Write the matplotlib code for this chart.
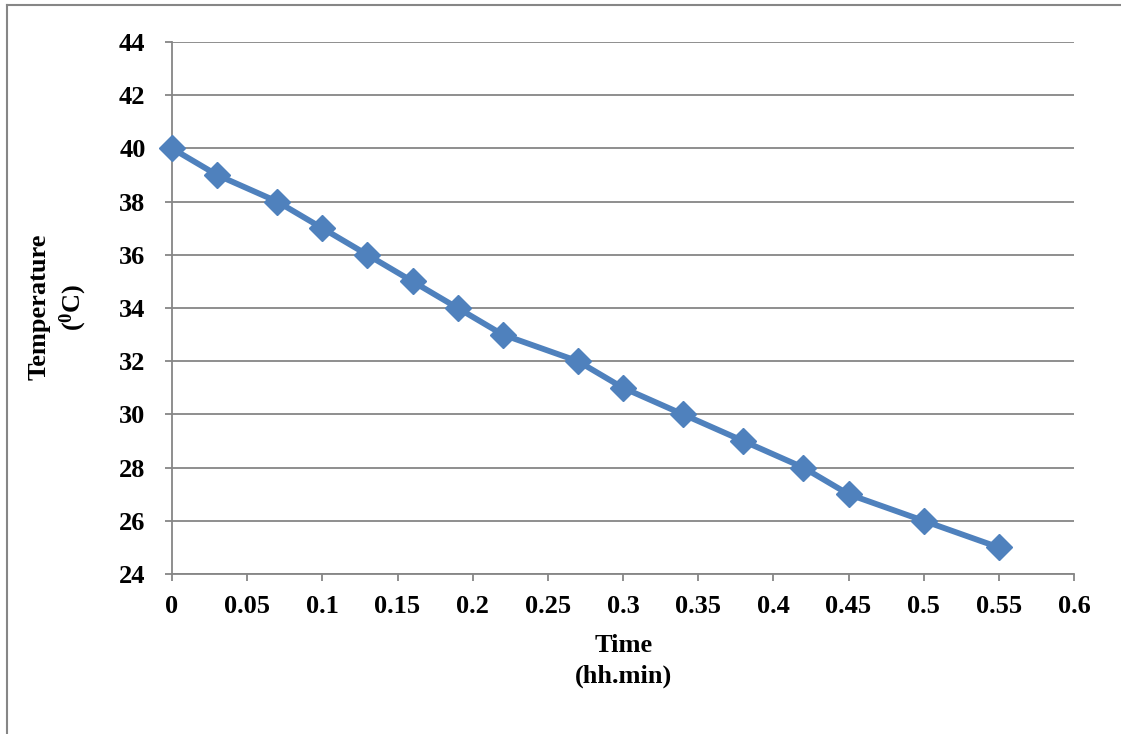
import matplotlib
matplotlib.use("Agg")
import matplotlib.pyplot as plt
from matplotlib.lines import Line2D

time = [0, 0.03, 0.07, 0.1, 0.13, 0.16, 0.19, 0.22, 0.27, 0.3, 0.34, 0.38, 0.42, 0.45, 0.5, 0.55]
temperature = [40, 39, 38, 37, 36, 35, 34, 33, 32, 31, 30, 29, 28, 27, 26, 25]
xticks = [0, 0.05, 0.1, 0.15, 0.2, 0.25, 0.3, 0.35, 0.4, 0.45, 0.5, 0.55, 0.6]
xtick_labels = ["0", "0.05", "0.1", "0.15", "0.2", "0.25", "0.3", "0.35", "0.4", "0.45", "0.5", "0.55", "0.6"]
yticks = [24, 26, 28, 30, 32, 34, 36, 38, 40, 42, 44]

plt.rcParams['font.family'] = ['Liberation Serif', 'DejaVu Serif']
plt.rcParams['font.weight'] = 'bold'
plt.rcParams['mathtext.fontset'] = 'custom'
plt.rcParams['mathtext.rm'] = 'Liberation Serif:bold'
plt.rcParams['mathtext.it'] = 'Liberation Serif:bold'
plt.rcParams['mathtext.bf'] = 'Liberation Serif:bold'

W, H = 1121, 734
fig = plt.figure(figsize=(W/100, H/100), dpi=100)
ax = fig.add_axes([172/W, 1-574/H, (1074-172)/W, (574-42)/H])

gray = '#868686'
blue = '#4F81BD'
fs = 19

ax.plot(time, temperature, color=blue, lw=4.2, marker='D', ms=13, zorder=3, clip_on=False)
ax.set_xlim(0, 0.6)
ax.set_ylim(24, 44)
ax.set_xticks(xticks)
ax.set_xticklabels(xtick_labels)
ax.set_yticks(yticks)
ax.yaxis.grid(True, color=gray, lw=1.3)
ax.set_axisbelow(True)
for s in ['top', 'right']:
    ax.spines[s].set_visible(False)
for s in ['left', 'bottom']:
    ax.spines[s].set_color(gray)
    ax.spines[s].set_linewidth(1.3)
ax.tick_params(axis='both', direction='out', length=5, width=1.3, color=gray,
               labelsize=fs)
ax.tick_params(axis='y', pad=14)
ax.tick_params(axis='x', pad=10)
for lab in ax.get_xticklabels() + ax.get_yticklabels():
    lab.set_fontweight('bold')

fig.text(624/W, 1-645/H, "Time", ha='center', va='center', fontsize=fs, fontweight='bold')
fig.text(624/W, 1-676/H, "(hh.min)", ha='center', va='center', fontsize=fs, fontweight='bold')
fig.text(39/W, 1-307/H, "Temperature", ha='center', va='center', rotation=90, fontsize=fs, fontweight='bold')
fig.text(73/W, 1-307/H, "(${}^{0}$C)", ha='center', va='center', rotation=90, fontsize=fs, fontweight='bold')

# outer frame (left and top)
fig.add_artist(Line2D([7/W, 7/W], [0, 1-5/H], transform=fig.transFigure, color=gray, lw=1.5))
fig.add_artist(Line2D([7/W, 1], [1-5/H, 1-5/H], transform=fig.transFigure, color=gray, lw=1.5))

fig.savefig("out.png", dpi=100)
